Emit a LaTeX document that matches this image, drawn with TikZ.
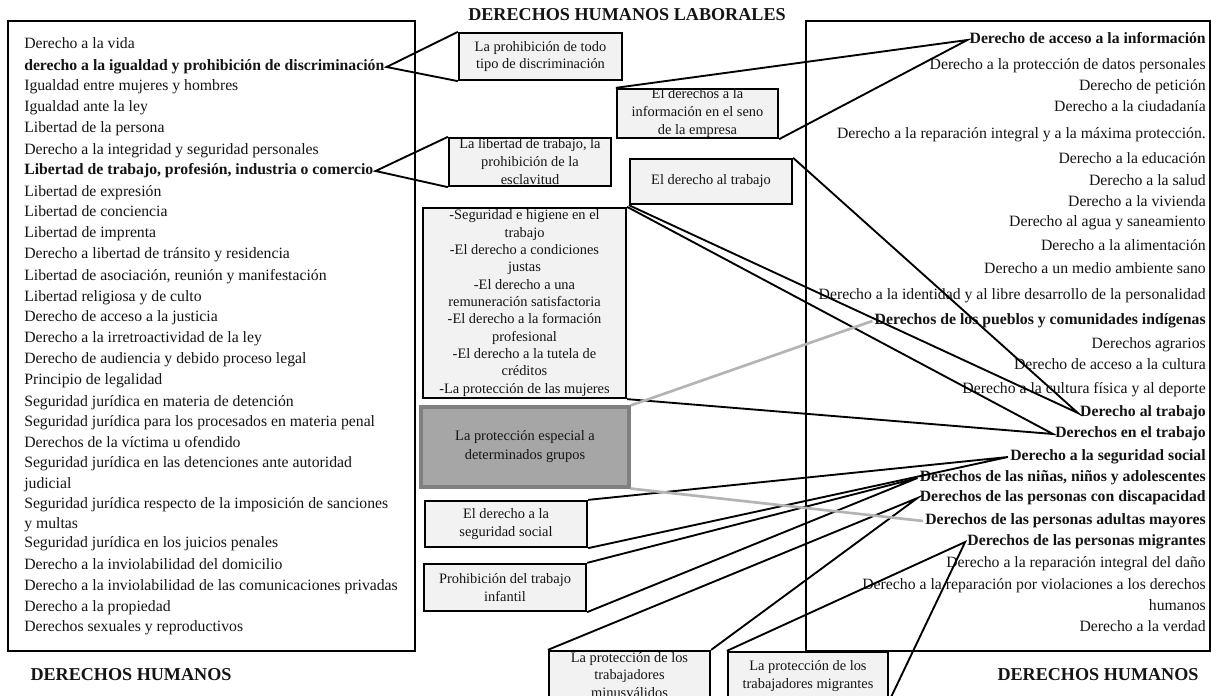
\documentclass[tikz,border=0pt]{standalone}
\usepackage{fontspec}
\setmainfont{Liberation Serif}
\definecolor{boxfill}{HTML}{F2F2F2}
\definecolor{grpfill}{HTML}{A6A6A6}
\definecolor{grpline}{HTML}{808080}
\definecolor{grayline}{HTML}{B4B4B4}
\definecolor{txt}{HTML}{141414}
\tikzset{
  frame/.style={draw=black, line width=1.6pt},
  litem/.style={anchor=west, inner sep=1.5pt, text=txt, font=\fontsize{11.8}{14}\selectfont, text height=8pt, text depth=2.5pt},
  ritem/.style={anchor=east, inner sep=1.5pt, text=txt, font=\fontsize{11.8}{14}\selectfont, text height=8pt, text depth=2.5pt},
  lbox/.style={draw=black, line width=1.7pt, fill=boxfill, inner sep=0pt, align=center, text=txt, font=\fontsize{10.8}{13}\selectfont},
  gbox/.style={draw=grpline, line width=2.3pt, fill=grpfill, inner sep=0pt, align=center, text=txt, font=\fontsize{10.8}{14.2}\selectfont},
  conn/.style={draw=black, line width=1.4pt, line join=miter},
  gconn/.style={draw=grayline, line width=2pt},
  ttl/.style={font=\bfseries\fontsize{13.6}{16}\selectfont, text=txt, inner sep=0pt}
}
\begin{document}
\begin{tikzpicture}[x=0.75pt, y=-0.75pt]
\clip (0,0) rectangle (1211,696);
\fill[white] (0,0) rectangle (1211,696);

% frames
\draw[frame] (8,21) rectangle (415,651);
\draw[frame] (806,21) rectangle (1210,651);

% titles
\node[ttl] (t1) at (627,15) {DERECHOS HUMANOS LABORALES};
\node[ttl] (t2) at (131,675) {DERECHOS HUMANOS};
\node[ttl] (t3) at (1098,675) {DERECHOS HUMANOS};

% left list
\node[litem] (l1) at (22,45) {Derecho a la vida};
\node[litem] (l2) at (22,67) {\bfseries derecho a la igualdad y prohibición de discriminación};
\node[litem] (l3) at (22,87) {Igualdad entre mujeres y hombres};
\node[litem] (l4) at (22,108) {Igualdad ante la ley};
\node[litem] (l5) at (22,129) {Libertad de la persona};
\node[litem] (l6) at (22,151) {Derecho a la integridad y seguridad personales};
\node[litem] (l7) at (22,171) {\bfseries Libertad de trabajo, profesión, industria o comercio};
\node[litem] (l8) at (22,193) {Libertad de expresión};
\node[litem] (l9) at (22,213) {Libertad de conciencia};
\node[litem] (l10) at (22,234) {Libertad de imprenta};
\node[litem] (l11) at (22,255) {Derecho a libertad de tránsito y residencia};
\node[litem] (l12) at (22,277) {Libertad de asociación, reunión y manifestación};
\node[litem] (l13) at (22,298) {Libertad religiosa y de culto};
\node[litem] (l14) at (22,318) {Derecho de acceso a la justicia};
\node[litem] (l15) at (22,339) {Derecho a la irretroactividad de la ley};
\node[litem] (l16) at (22,360) {Derecho de audiencia y debido proceso legal};
\node[litem] (l17) at (22,381) {Principio de legalidad};
\node[litem] (l18) at (22,403) {Seguridad jurídica en materia de detención};
\node[litem] (l19) at (22,423) {Seguridad jurídica para los procesados en materia penal};
\node[litem] (l20) at (22,444) {Derechos de la víctima u ofendido};
\node[litem] (l21) at (22,464) {Seguridad jurídica en las detenciones ante autoridad};
\node[litem] (l22) at (22,485) {judicial};
\node[litem] (l23) at (22,505) {Seguridad jurídica respecto de la imposición de sanciones};
\node[litem] (l24) at (22,525) {y multas};
\node[litem] (l25) at (22,544) {Seguridad jurídica en los juicios penales};
\node[litem] (l26) at (22,566) {Derecho a la inviolabilidad del domicilio};
\node[litem] (l27) at (22,587) {Derecho a la inviolabilidad de las comunicaciones privadas};
\node[litem] (l28) at (22,608) {Derecho a la propiedad};
\node[litem] (l29) at (22,628) {Derechos sexuales y reproductivos};

% right list
\node[ritem] (r1) at (1208,40) {\bfseries Derecho de acceso a la información};
\node[ritem] (r2) at (1208,66) {Derecho a la protección de datos personales};
\node[ritem] (r3) at (1208,87) {Derecho de petición};
\node[ritem] (r4) at (1208,108) {Derecho a la ciudadanía};
\node[ritem] (r5) at (1208,135) {Derecho a la reparación integral y a la máxima protección.};
\node[ritem] (r6) at (1208,160) {Derecho a la educación};
\node[ritem] (r7) at (1208,182) {Derecho a la salud};
\node[ritem] (r8) at (1208,203) {Derecho a la vivienda};
\node[ritem] (r9) at (1208,223) {Derecho al agua y saneamiento};
\node[ritem] (r10) at (1208,247) {Derecho a la alimentación};
\node[ritem] (r11) at (1208,270) {Derecho a un medio ambiente sano};
\node[ritem] (r12) at (1208,296) {Derecho a la identidad y al libre desarrollo de la personalidad};
\node[ritem] (r13) at (1208,321) {\bfseries Derechos de los pueblos y comunidades indígenas};
\node[ritem] (r14) at (1208,345) {Derechos agrarios};
\node[ritem] (r15) at (1208,366) {Derecho de acceso a la cultura};
\node[ritem] (r16) at (1208,390) {Derecho a la cultura física y al deporte};
\node[ritem] (r17) at (1208,413) {\bfseries Derecho al trabajo};
\node[ritem] (r18) at (1208,434) {\bfseries Derechos en el trabajo};
\node[ritem] (r19) at (1208,457) {\bfseries Derecho a la seguridad social};
\node[ritem] (r20) at (1208,478) {\bfseries Derechos de las niñas, niños y adolescentes};
\node[ritem] (r21) at (1208,498) {\bfseries Derechos de las personas con discapacidad};
\node[ritem] (r22) at (1208,521) {\bfseries Derechos de las personas adultas mayores};
\node[ritem] (r23) at (1208,542) {\bfseries Derechos de las personas migrantes};
\node[ritem] (r24) at (1208,564) {Derecho a la reparación integral del daño};
\node[ritem] (r25) at (1208,586) {Derecho a la reparación por violaciones a los derechos};
\node[ritem] (r26) at (1208,607) {humanos};
\node[ritem] (r27) at (1208,628) {Derecho a la verdad};

% middle boxes
\node[lbox, minimum width=122.25pt, minimum height=35.25pt] (b1) at (540.5,56.5) {La prohibición de todo\\tipo de discriminación};
\node[lbox, minimum width=120.75pt, minimum height=35.25pt, font=\fontsize{10.8}{13.5}\selectfont] (b2) at (697.5,113.5) {El derechos a la\\información en el seno\\de la empresa};
\node[lbox, minimum width=121.5pt, minimum height=36pt, font=\fontsize{10.8}{13.5}\selectfont] (b3) at (530,162) {La libertad de trabajo, la\\prohibición de la\\esclavitud};
\node[lbox, minimum width=121.5pt, minimum height=33.75pt] (b4) at (711,181.5) {El derecho al trabajo};
\node[lbox, minimum width=152.25pt, minimum height=142.5pt] (b5) at (524.5,303) {-Seguridad e higiene en el\\trabajo\\-El derecho a condiciones\\justas\\-El derecho a una\\remuneración satisfactoria\\-El derecho a la formación\\profesional\\-El derecho a la tutela de\\créditos\\-La protección de las mujeres};
\node[gbox, minimum width=156pt, minimum height=60pt] (b6) at (525,447) {La protección especial a\\determinados grupos};
\node[lbox, minimum width=121.5pt, minimum height=34.5pt] (b7) at (506,524) {El derecho a la\\seguridad social};
\node[lbox, minimum width=121.5pt, minimum height=35.25pt, font=\fontsize{10.8}{13.5}\selectfont] (b8) at (505,587.5) {Prohibición del trabajo\\infantil};
\node[lbox, minimum width=120.75pt, minimum height=36pt] (b9) at (629.5,675) {La protección de los\\trabajadores\\minusválidos};
\node[lbox, minimum width=120pt, minimum height=36pt] (b10) at (808,676) {La protección de los\\trabajadores migrantes};

% connectors
\draw[conn] (b1.north west) -- (l2.east) -- (b1.south west);
\draw[conn] (b3.north west) -- (l7.east) -- (b3.south west);
\draw[conn] (b2.north west) -- (r1.west) -- (b2.south east);
\draw[conn] (b4.north east) -- (r17.west) -- (b4.south west);
\draw[conn] (b5.north east) -- (r18.west) -- (b5.south east);
\draw[conn] (b7.north east) -- (r19.west) -- (b7.south east);
\draw[conn] (b8.north east) -- (r20.west) -- (b8.south east);
\draw[conn] (b9.north west) -- (r21.west) -- (b9.north east);
\draw[conn] (b10.north west) -- (r23.west) -- (b10.south east);
\draw[gconn] (b6.north east) -- (r13.west);
\draw[gconn] (b6.south east) -- (r22.west);
\end{tikzpicture}
\end{document}
